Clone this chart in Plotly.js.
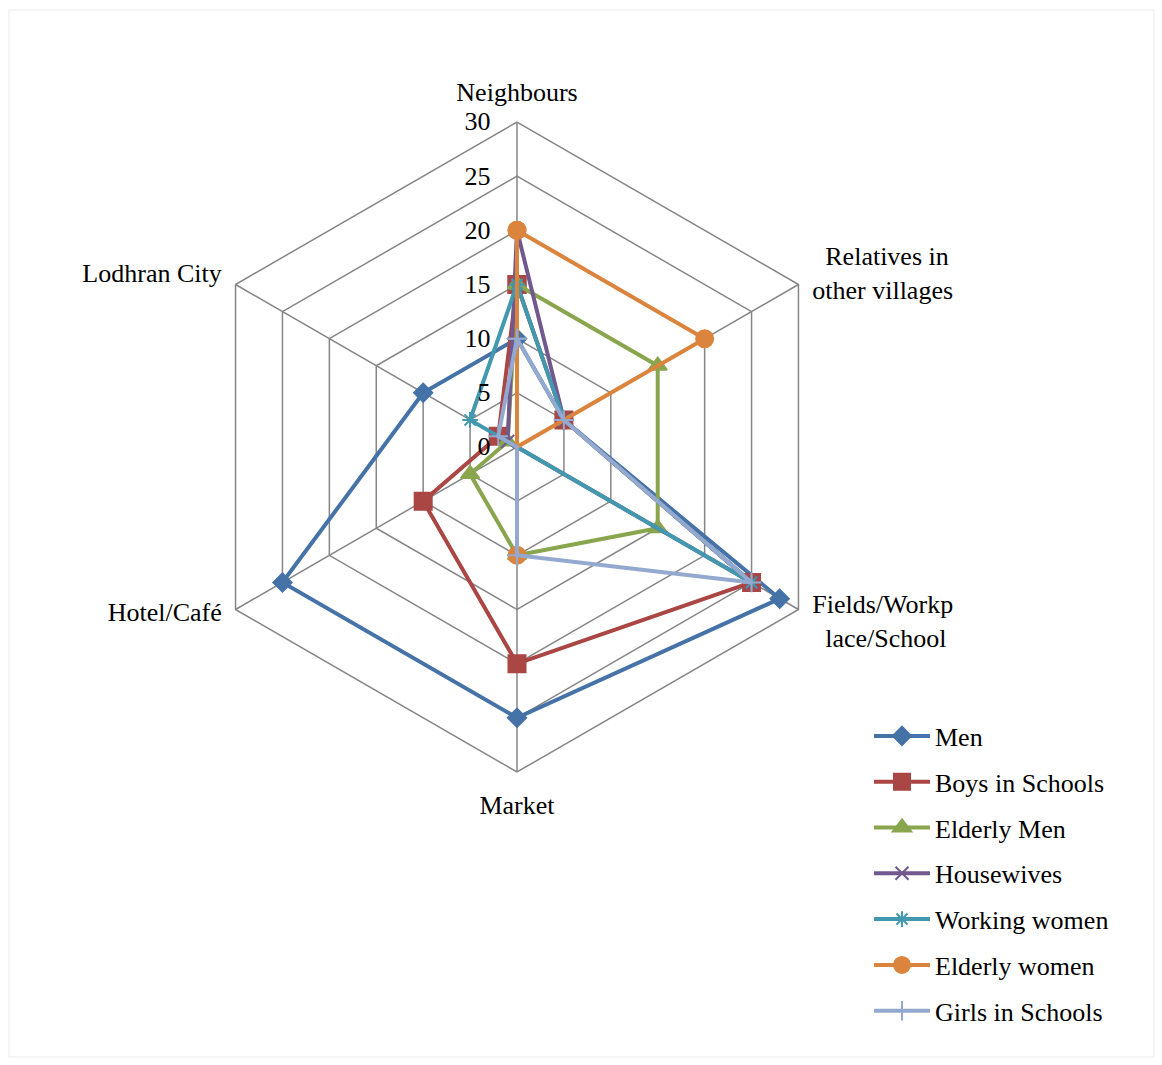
<!DOCTYPE html>
<html>
<head>
<meta charset="utf-8">
<script src="https://cdn.plot.ly/plotly-3.0.1.min.js"></script>
<style>html,body{margin:0;padding:0;background:#fff;}#chart{width:1162px;height:1065px;}</style>
</head>
<body>
<div id="chart"></div>
<script>
const categories = ["Neighbours", "Relatives in other villages", "Fields/Workplace/School", "Market", "Hotel/Café", "Lodhran City"];
const categoryLabels = ["Neighbours", "&nbsp;<br>&nbsp;&nbsp;Relatives in<br>other villages", "Fields/Workp<br>&nbsp;&nbsp;lace/School<br>&nbsp;<br>&nbsp;", "Market", "Hotel/Café<br>&nbsp;<br>&nbsp;", "Lodhran City"];
const seriesNames = ["Men", "Boys in Schools", "Elderly Men", "Housewives", "Working women", "Elderly women", "Girls in Schools"];
const men = [10, 5, 28, 25, 25, 10];
const boysInSchools = [15, 5, 25, 20, 10, 2];
const elderlyMen = [15, 15, 15, 10, 5, 1];
const housewives = [20, 5, 25, 0, 0, 1];
const workingWomen = [15, 5, 25, 0, 0, 5];
const elderlyWomen = [20, 20, 0, 10, 0, 0];
const girlsInSchools = [10, 5, 25, 10, 0, 2];
const radialTicks = [0, 5, 10, 15, 20, 25, 30];

const seriesValues = [men, boysInSchools, elderlyMen, housewives, workingWomen, elderlyWomen, girlsInSchools];
const colors = ["#4572A7", "#AA4643", "#89A54E", "#71588F", "#4198AF", "#DB843D", "#93A9CF"];
const symbols = ["diamond", "square", "triangle-up", "x-thin-open", "asterisk-open", "circle", "cross-thin-open"];
const sizes = [14, 17, 16, 13, 13, 17, 14];

const traces = seriesValues.map((vals, i) => ({
  type: "scatterpolar",
  mode: "lines+markers",
  name: seriesNames[i],
  legendgroup: "g" + i,
  r: vals.concat([vals[0]]),
  theta: categories.concat([categories[0]]),
  line: {color: colors[i], width: 4},
  marker: {symbol: symbols[i], size: sizes[i], color: colors[i], line: {color: colors[i], width: 2}},
  cliponaxis: false
}));

const FS = 26;
const layout = {
  width: 1162, height: 1065,
  margin: {l: 0, r: 0, t: 0, b: 0},
  paper_bgcolor: "#ffffff",
  font: {family: "Liberation Serif, Times New Roman, serif", size: FS, color: "#000"},
  showlegend: true,
  legend: {x: 869/1162, y: 0.331, xanchor: "left", yanchor: "top", itemwidth: 56, tracegroupgap: 9,
           font: {family: "Liberation Serif, serif", size: FS, color: "#000"}, bgcolor: "rgba(0,0,0,0)"},
  polar: {
    domain: {x: [192/1162, 842/1162], y: [293/1065, 943/1065]},
    gridshape: "linear",
    bgcolor: "rgba(0,0,0,0)",
    angularaxis: {
      rotation: 90, direction: "clockwise",
      categoryorder: "array", categoryarray: categories,
      tickmode: "array", tickvals: categories, ticktext: categoryLabels,
      showline: true, linecolor: "#868686", linewidth: 1.5,
      gridcolor: "#868686", gridwidth: 1.5,
      ticks: "outside", ticklen: 10, tickcolor: "rgba(255,255,255,0)",
      tickfont: {family: "Liberation Serif, serif", size: FS, color: "#000"}
    },
    radialaxis: {
      range: [0, 30], tickvals: radialTicks, angle: 90, tickangle: 90,
      side: "counterclockwise",
      showline: false, gridcolor: "#868686", gridwidth: 1.5,
      ticks: "outside", ticklen: 17, tickcolor: "rgba(255,255,255,0)",
      tickfont: {family: "Liberation Serif, serif", size: FS, color: "#000"}
    }
  },
  shapes: [{type: "rect", xref: "paper", yref: "paper", x0: 9/1162, x1: 1154/1162, y0: 8/1065, y1: 1055/1065,
            line: {color: "#ebebeb", width: 1}}]
};

Plotly.newPlot("chart", traces, layout, {displayModeBar: false, staticPlot: true});
</script>
</body>
</html>
